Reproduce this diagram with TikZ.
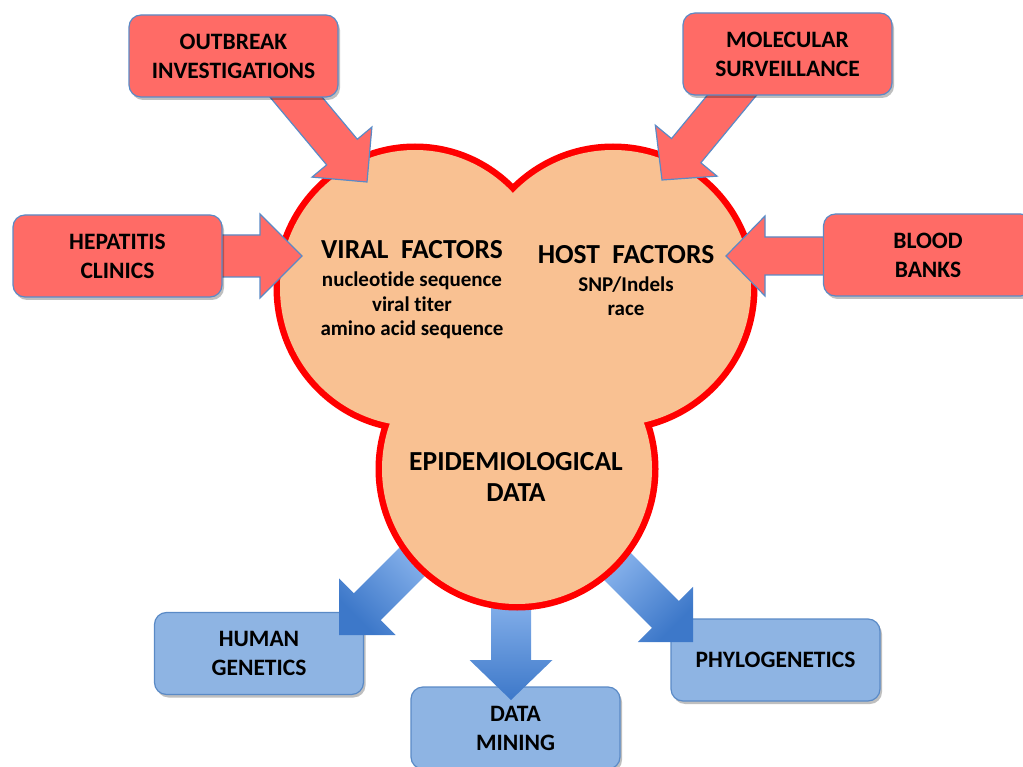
\documentclass[tikz,border=0pt]{standalone}
\usepackage{fontspec}
\setmainfont{Carlito}[Ligatures=NoCommon]
\usetikzlibrary{calc,shadows}
\definecolor{boxred}{HTML}{FF6B66}
\definecolor{edgeblue}{HTML}{5A8AC6}
\definecolor{peach}{HTML}{F9C192}
\definecolor{blobred}{HTML}{FF0000}
\definecolor{boxblue}{HTML}{8EB4E3}
\definecolor{arrlight}{HTML}{A2C7F8}
\definecolor{arrdark}{HTML}{3D78C9}
\newcommand\blockarrow[6]{%
  \coordinate (ah) at ($(#2)!#5!(#1)$);
  \path[#6] ($(#1)!#3!90:(#2)$) -- ($(ah)!#3!90:(#2)$) -- ($(ah)!#4!90:(#2)$) -- (#2)
     -- ($(ah)!#4!-90:(#2)$) -- ($(ah)!#3!-90:(#2)$) -- ($(#1)!#3!-90:(#2)$) -- cycle;}
\begin{document}
\begin{tikzpicture}[x=1pt,y=-1pt,
  boxbase/.style={rounded corners=12pt, minimum width=209pt, minimum height=82pt,
     align=center, inner sep=0pt, font=\fontsize{23.5}{29}\selectfont\bfseries,
     drop shadow={shadow xshift=2pt,shadow yshift=-3pt,opacity=0.25,fill=black}},
  redbox/.style={boxbase, draw=edgeblue, line width=1.2pt, fill=boxred},
  bluebox/.style={boxbase, draw=edgeblue, line width=1.2pt, fill=boxblue},
  redarrow/.style={fill=boxred, draw=edgeblue, line width=1.2pt, line join=miter},
  bluearrow/.style={top color=arrlight, bottom color=arrdark, shading angle=#1},
  blobtxt/.style={anchor=base, inner sep=0pt, font=\fontsize{#1}{#1}\selectfont\bfseries}]
\path[use as bounding box] (0,0) rectangle (1023,767);
\clip (0,0) rectangle (1023,767);

% blue boxes
\node[bluebox] (hg) at (259,653.5) {HUMAN\\GENETICS};
\node[bluebox] (dm) at (515.5,728) {DATA\\MINING};
\node[bluebox] (ph) at (775.5,660) {PHYLOGENETICS};

% blue arrows
\coordinate (hgT) at (445,529); \coordinate (hgH) at (339,635);
\coordinate (dmT) at (511,560); \coordinate (dmH) at (511,700);
\coordinate (phT) at (587,536); \coordinate (phH) at (693,642);
\blockarrow{hgT}{hgH}{19pt}{40pt}{40pt}{bluearrow=-45}
\blockarrow{dmT}{dmH}{20pt}{41.5pt}{40pt}{bluearrow=0}
\blockarrow{phT}{phH}{19pt}{39pt}{39pt}{bluearrow=45}

% blob
\draw[blobred, line width=13pt] (415,288) ellipse [x radius=135pt, y radius=138pt];
\draw[blobred, line width=13pt] (613,288) ellipse [x radius=138pt, y radius=138pt];
\draw[blobred, line width=13pt] (517,469) ellipse [x radius=135pt, y radius=135pt];
\fill[peach] (415,288) ellipse [x radius=135pt, y radius=138pt];
\fill[peach] (613,288) ellipse [x radius=138pt, y radius=138pt];
\fill[peach] (517,469) ellipse [x radius=135pt, y radius=135pt];

% red arrows
\coordinate (obT) at (265,60);  \coordinate (obH) at (367,182);
\coordinate (msT) at (761,60);  \coordinate (msH) at (662,180);
\coordinate (hcT) at (117,256); \coordinate (hcH) at (302,256);
\coordinate (bbT) at (928,256); \coordinate (bbH) at (726,256);
\blockarrow{obT}{obH}{20pt}{39pt}{39pt}{redarrow}
\blockarrow{msT}{msH}{19pt}{40pt}{38pt}{redarrow}
\blockarrow{hcT}{hcH}{21pt}{42pt}{42pt}{redarrow}
\blockarrow{bbT}{bbH}{19pt}{40pt}{39pt}{redarrow}

% red boxes
\node[redbox] (ob) at (233.5,56) {OUTBREAK\\INVESTIGATIONS};
\node[redbox] (ms) at (787.5,54) {MOLECULAR\\SURVEILLANCE};
\node[redbox] (hc) at (117.5,256) {HEPATITIS\\CLINICS};
\node[redbox] (bb) at (928,255) {BLOOD\\BANKS};

% blob texts
\node[blobtxt=27.5] (vf) at (412,259) {VIRAL\ \ FACTORS};
\node[blobtxt=21] (vf1) at (412,287) {nucleotide sequence};
\node[blobtxt=21] (vf2) at (412,312) {viral titer};
\node[blobtxt=21] (vf3) at (412,336) {amino acid sequence};
\node[blobtxt=27.5] (hf) at (626,264) {HOST\ \ FACTORS};
\node[blobtxt=21] (hf1) at (626,292) {SNP/Indels};
\node[blobtxt=21] (hf2) at (626,316) {race};
\node[blobtxt=27.5] (ep) at (516,470) {EPIDEMIOLOGICAL};
\node[blobtxt=27.5] (ep2) at (516,501) {DATA};
\end{tikzpicture}
\end{document}
